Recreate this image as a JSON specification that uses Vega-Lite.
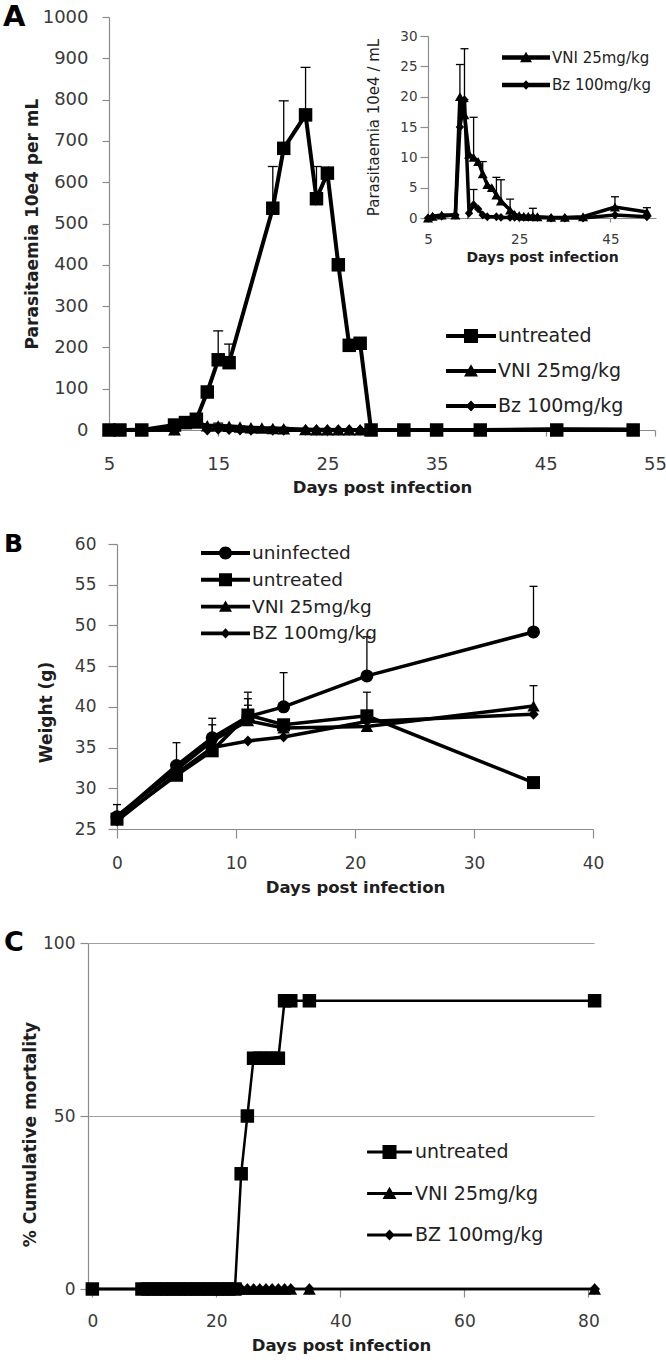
{
  "$schema": "https://vega.github.io/schema/vega-lite/v6.json",
  "width": 666,
  "height": 1362,
  "autosize": "none",
  "padding": 0,
  "background": "white",
  "config": {
    "view": {"stroke": null},
    "font": "DejaVu Sans",
    "axis": {"domainColor": "#8c8c8c", "tickColor": "#8c8c8c", "domainWidth": 1.2, "tickWidth": 1.2, "labelColor": "#3a3a3a", "titleColor": "#1e1e1e", "labelFont": "DejaVu Sans", "titleFont": "DejaVu Sans", "titleFontWeight": "bold", "grid": false, "labelFlush": false, "labelOverlap": false, "format": "d"},
    "legend": {"labelFont": "DejaVu Sans", "labelColor": "#222222", "padding": 0, "symbolOpacity": 1, "symbolStrokeWidth": 0, "symbolFillColor": "black", "title": null}
  },
  "datasets": {
    "para": [
      {"group": "untreated", "day": 5, "value": 0},
      {"group": "untreated", "day": 6, "value": 0},
      {"group": "untreated", "day": 8, "value": 0},
      {"group": "untreated", "day": 11, "value": 12},
      {"group": "untreated", "day": 12, "value": 18},
      {"group": "untreated", "day": 13, "value": 26},
      {"group": "untreated", "day": 14, "value": 92},
      {"group": "untreated", "day": 15, "value": 170, "err": 240},
      {"group": "untreated", "day": 16, "value": 163, "err": 208},
      {"group": "untreated", "day": 20, "value": 537, "err": 638},
      {"group": "untreated", "day": 21, "value": 682, "err": 797},
      {"group": "untreated", "day": 23, "value": 763, "err": 878},
      {"group": "untreated", "day": 24, "value": 560, "err": 638},
      {"group": "untreated", "day": 25, "value": 622},
      {"group": "untreated", "day": 26, "value": 400},
      {"group": "untreated", "day": 27, "value": 205},
      {"group": "untreated", "day": 28, "value": 210},
      {"group": "untreated", "day": 29, "value": 0},
      {"group": "untreated", "day": 32, "value": 0},
      {"group": "untreated", "day": 35, "value": 0},
      {"group": "untreated", "day": 39, "value": 0},
      {"group": "untreated", "day": 46, "value": 0},
      {"group": "untreated", "day": 53, "value": 0},
      {"group": "VNI 25mg/kg", "day": 5, "value": 0},
      {"group": "VNI 25mg/kg", "day": 6, "value": 0.3},
      {"group": "VNI 25mg/kg", "day": 8, "value": 0.5},
      {"group": "VNI 25mg/kg", "day": 11, "value": 0.5},
      {"group": "VNI 25mg/kg", "day": 12, "value": 20, "err": 25.3},
      {"group": "VNI 25mg/kg", "day": 13, "value": 17, "err": 19.2},
      {"group": "VNI 25mg/kg", "day": 14, "value": 10.5},
      {"group": "VNI 25mg/kg", "day": 15, "value": 10, "err": 16.6},
      {"group": "VNI 25mg/kg", "day": 16, "value": 9.3},
      {"group": "VNI 25mg/kg", "day": 17, "value": 7.3, "err": 9.3},
      {"group": "VNI 25mg/kg", "day": 18, "value": 5.5},
      {"group": "VNI 25mg/kg", "day": 19, "value": 5},
      {"group": "VNI 25mg/kg", "day": 20, "value": 3.8, "err": 6.7},
      {"group": "VNI 25mg/kg", "day": 21, "value": 2.8, "err": 6.3},
      {"group": "VNI 25mg/kg", "day": 23, "value": 1.3, "err": 3.1},
      {"group": "VNI 25mg/kg", "day": 24, "value": 0.6},
      {"group": "VNI 25mg/kg", "day": 25, "value": 0.4},
      {"group": "VNI 25mg/kg", "day": 26, "value": 0.3},
      {"group": "VNI 25mg/kg", "day": 27, "value": 0.3},
      {"group": "VNI 25mg/kg", "day": 28, "value": 0.3, "err": 1.6},
      {"group": "VNI 25mg/kg", "day": 29, "value": 0.2},
      {"group": "VNI 25mg/kg", "day": 32, "value": 0.1},
      {"group": "VNI 25mg/kg", "day": 35, "value": 0.1},
      {"group": "VNI 25mg/kg", "day": 39, "value": 0.2},
      {"group": "VNI 25mg/kg", "day": 46, "value": 1.8, "err": 3.5},
      {"group": "VNI 25mg/kg", "day": 53, "value": 1.0, "err": 1.7},
      {"group": "Bz 100mg/kg", "day": 5, "value": 0},
      {"group": "Bz 100mg/kg", "day": 6, "value": 0.2},
      {"group": "Bz 100mg/kg", "day": 8, "value": 0.3},
      {"group": "Bz 100mg/kg", "day": 11, "value": 0.5},
      {"group": "Bz 100mg/kg", "day": 12, "value": 15},
      {"group": "Bz 100mg/kg", "day": 13, "value": 19.5, "err": 27.9},
      {"group": "Bz 100mg/kg", "day": 14, "value": 0.8},
      {"group": "Bz 100mg/kg", "day": 15, "value": 2.2, "err": 4.7},
      {"group": "Bz 100mg/kg", "day": 16, "value": 1.5},
      {"group": "Bz 100mg/kg", "day": 17, "value": 0.5},
      {"group": "Bz 100mg/kg", "day": 18, "value": 0.2},
      {"group": "Bz 100mg/kg", "day": 20, "value": 0.2},
      {"group": "Bz 100mg/kg", "day": 21, "value": 0.1},
      {"group": "Bz 100mg/kg", "day": 23, "value": 0.1},
      {"group": "Bz 100mg/kg", "day": 24, "value": 0.1},
      {"group": "Bz 100mg/kg", "day": 25, "value": 0.1},
      {"group": "Bz 100mg/kg", "day": 26, "value": 0.1},
      {"group": "Bz 100mg/kg", "day": 27, "value": 0.1},
      {"group": "Bz 100mg/kg", "day": 28, "value": 0.1},
      {"group": "Bz 100mg/kg", "day": 29, "value": 0.1},
      {"group": "Bz 100mg/kg", "day": 32, "value": 0},
      {"group": "Bz 100mg/kg", "day": 35, "value": 0},
      {"group": "Bz 100mg/kg", "day": 39, "value": 0},
      {"group": "Bz 100mg/kg", "day": 46, "value": 0.5},
      {"group": "Bz 100mg/kg", "day": 53, "value": 0.2}
    ],
    "weight": [
      {"group": "uninfected", "day": 0, "value": 26.5, "err": 28.0},
      {"group": "uninfected", "day": 5, "value": 32.8, "err": 35.6},
      {"group": "uninfected", "day": 8, "value": 36.2, "err": 38.6},
      {"group": "uninfected", "day": 11, "value": 38.8, "err": 41.8},
      {"group": "uninfected", "day": 14, "value": 40.0, "err": 44.2},
      {"group": "uninfected", "day": 21, "value": 43.8, "err": 48.6},
      {"group": "uninfected", "day": 35, "value": 49.2, "err": 54.8},
      {"group": "untreated", "day": 0, "value": 26.2},
      {"group": "untreated", "day": 5, "value": 31.6},
      {"group": "untreated", "day": 8, "value": 34.6, "err": 37.8},
      {"group": "untreated", "day": 11, "value": 39.0, "err": 41.0},
      {"group": "untreated", "day": 14, "value": 37.8},
      {"group": "untreated", "day": 21, "value": 38.9, "err": 41.8},
      {"group": "untreated", "day": 35, "value": 30.7},
      {"group": "VNI 25mg/kg", "day": 0, "value": 26.6},
      {"group": "VNI 25mg/kg", "day": 5, "value": 32.3},
      {"group": "VNI 25mg/kg", "day": 8, "value": 35.8},
      {"group": "VNI 25mg/kg", "day": 11, "value": 38.3, "err": 40.2},
      {"group": "VNI 25mg/kg", "day": 14, "value": 37.4},
      {"group": "VNI 25mg/kg", "day": 21, "value": 37.6},
      {"group": "VNI 25mg/kg", "day": 35, "value": 40.1, "err": 42.6},
      {"group": "BZ 100mg/kg", "day": 0, "value": 26.0},
      {"group": "BZ 100mg/kg", "day": 5, "value": 31.8},
      {"group": "BZ 100mg/kg", "day": 8, "value": 35.0},
      {"group": "BZ 100mg/kg", "day": 11, "value": 35.8},
      {"group": "BZ 100mg/kg", "day": 14, "value": 36.3},
      {"group": "BZ 100mg/kg", "day": 21, "value": 38.2},
      {"group": "BZ 100mg/kg", "day": 35, "value": 39.1}
    ],
    "mort": [
      {"group": "untreated", "day": 0, "value": 0},
      {"group": "untreated", "day": 8, "value": 0},
      {"group": "untreated", "day": 9, "value": 0},
      {"group": "untreated", "day": 10, "value": 0},
      {"group": "untreated", "day": 11, "value": 0},
      {"group": "untreated", "day": 12, "value": 0},
      {"group": "untreated", "day": 13, "value": 0},
      {"group": "untreated", "day": 14, "value": 0},
      {"group": "untreated", "day": 15, "value": 0},
      {"group": "untreated", "day": 16, "value": 0},
      {"group": "untreated", "day": 17, "value": 0},
      {"group": "untreated", "day": 18, "value": 0},
      {"group": "untreated", "day": 19, "value": 0},
      {"group": "untreated", "day": 20, "value": 0},
      {"group": "untreated", "day": 21, "value": 0},
      {"group": "untreated", "day": 22, "value": 0},
      {"group": "untreated", "day": 23, "value": 0},
      {"group": "untreated", "day": 24, "value": 33.3},
      {"group": "untreated", "day": 25, "value": 50},
      {"group": "untreated", "day": 26, "value": 66.7},
      {"group": "untreated", "day": 27, "value": 66.7},
      {"group": "untreated", "day": 28, "value": 66.7},
      {"group": "untreated", "day": 29, "value": 66.7},
      {"group": "untreated", "day": 30, "value": 66.7},
      {"group": "untreated", "day": 31, "value": 83.3},
      {"group": "untreated", "day": 32, "value": 83.3},
      {"group": "untreated", "day": 35, "value": 83.3},
      {"group": "untreated", "day": 81, "value": 83.3},
      {"group": "VNI 25mg/kg", "day": 0, "value": 0},
      {"group": "VNI 25mg/kg", "day": 8, "value": 0},
      {"group": "VNI 25mg/kg", "day": 9, "value": 0},
      {"group": "VNI 25mg/kg", "day": 10, "value": 0},
      {"group": "VNI 25mg/kg", "day": 11, "value": 0},
      {"group": "VNI 25mg/kg", "day": 12, "value": 0},
      {"group": "VNI 25mg/kg", "day": 13, "value": 0},
      {"group": "VNI 25mg/kg", "day": 14, "value": 0},
      {"group": "VNI 25mg/kg", "day": 15, "value": 0},
      {"group": "VNI 25mg/kg", "day": 16, "value": 0},
      {"group": "VNI 25mg/kg", "day": 17, "value": 0},
      {"group": "VNI 25mg/kg", "day": 18, "value": 0},
      {"group": "VNI 25mg/kg", "day": 19, "value": 0},
      {"group": "VNI 25mg/kg", "day": 20, "value": 0},
      {"group": "VNI 25mg/kg", "day": 21, "value": 0},
      {"group": "VNI 25mg/kg", "day": 22, "value": 0},
      {"group": "VNI 25mg/kg", "day": 23, "value": 0},
      {"group": "VNI 25mg/kg", "day": 24, "value": 0},
      {"group": "VNI 25mg/kg", "day": 25, "value": 0},
      {"group": "VNI 25mg/kg", "day": 26, "value": 0},
      {"group": "VNI 25mg/kg", "day": 27, "value": 0},
      {"group": "VNI 25mg/kg", "day": 28, "value": 0},
      {"group": "VNI 25mg/kg", "day": 29, "value": 0},
      {"group": "VNI 25mg/kg", "day": 30, "value": 0},
      {"group": "VNI 25mg/kg", "day": 31, "value": 0},
      {"group": "VNI 25mg/kg", "day": 32, "value": 0},
      {"group": "VNI 25mg/kg", "day": 35, "value": 0},
      {"group": "VNI 25mg/kg", "day": 81, "value": 0},
      {"group": "BZ 100mg/kg", "day": 0, "value": 0},
      {"group": "BZ 100mg/kg", "day": 8, "value": 0},
      {"group": "BZ 100mg/kg", "day": 9, "value": 0},
      {"group": "BZ 100mg/kg", "day": 10, "value": 0},
      {"group": "BZ 100mg/kg", "day": 11, "value": 0},
      {"group": "BZ 100mg/kg", "day": 12, "value": 0},
      {"group": "BZ 100mg/kg", "day": 13, "value": 0},
      {"group": "BZ 100mg/kg", "day": 14, "value": 0},
      {"group": "BZ 100mg/kg", "day": 15, "value": 0},
      {"group": "BZ 100mg/kg", "day": 16, "value": 0},
      {"group": "BZ 100mg/kg", "day": 17, "value": 0},
      {"group": "BZ 100mg/kg", "day": 18, "value": 0},
      {"group": "BZ 100mg/kg", "day": 19, "value": 0},
      {"group": "BZ 100mg/kg", "day": 20, "value": 0},
      {"group": "BZ 100mg/kg", "day": 21, "value": 0},
      {"group": "BZ 100mg/kg", "day": 22, "value": 0},
      {"group": "BZ 100mg/kg", "day": 23, "value": 0},
      {"group": "BZ 100mg/kg", "day": 24, "value": 0},
      {"group": "BZ 100mg/kg", "day": 25, "value": 0},
      {"group": "BZ 100mg/kg", "day": 26, "value": 0},
      {"group": "BZ 100mg/kg", "day": 27, "value": 0},
      {"group": "BZ 100mg/kg", "day": 28, "value": 0},
      {"group": "BZ 100mg/kg", "day": 29, "value": 0},
      {"group": "BZ 100mg/kg", "day": 30, "value": 0},
      {"group": "BZ 100mg/kg", "day": 31, "value": 0},
      {"group": "BZ 100mg/kg", "day": 32, "value": 0},
      {"group": "BZ 100mg/kg", "day": 35, "value": 0},
      {"group": "BZ 100mg/kg", "day": 81, "value": 0}
    ]
  },
  "layer": [
    {
      "data": {"name": "para"},
      "resolve": {"scale": {"shape": "independent"}},
      "layer": [
        {"mark": {"type": "line", "color": "black", "strokeWidth": 4},
          "encoding": {
            "x": {"field": "day", "type": "quantitative", "scale": {"domain": [5, 55], "range": [109, 655], "nice": false, "zero": false},
              "axis": {"title": "Days post infection", "orient": "bottom", "offset": -932, "values": [5, 15, 25, 35, 45, 55], "tickSize": 6, "labelPadding": 19, "labelFontSize": 18, "titleFontSize": 16.5, "titlePadding": 6}},
            "y": {"field": "value", "type": "quantitative", "scale": {"domain": [0, 1000], "range": [430, 17], "nice": false, "zero": false},
              "axis": {"title": "Parasitaemia 10e4 per mL", "orient": "left", "offset": -109, "values": [0, 100, 200, 300, 400, 500, 600, 700, 800, 900, 1000], "tickSize": 7, "labelPadding": 14, "labelFontSize": 18, "titleFontSize": 17, "titlePadding": 1}},
            "detail": {"field": "group"}}},
        {"transform": [{"filter": "datum.err != null"}], "mark": {"type": "rule", "color": "black", "strokeWidth": 1.3},
          "encoding": {"x": {"field": "day", "type": "quantitative"}, "y": {"field": "value", "type": "quantitative"}, "y2": {"field": "err"}}},
        {"transform": [{"filter": "datum.err != null"}], "mark": {"type": "tick", "orient": "horizontal", "color": "black", "opacity": 1, "size": 10, "thickness": 1.3},
          "encoding": {"x": {"field": "day", "type": "quantitative"}, "y": {"field": "err", "type": "quantitative"}}},
        {"mark": {"type": "point", "filled": true, "color": "black", "opacity": 1, "size": 182},
          "encoding": {"x": {"field": "day", "type": "quantitative"}, "y": {"field": "value", "type": "quantitative"},
            "shape": {"field": "group", "scale": {"domain": ["untreated", "VNI 25mg/kg", "Bz 100mg/kg"], "range": ["square", "M0,-0.85L0.95,0.85L-0.95,0.85Z", "M0,-0.85L0.8,0L0,0.85L-0.8,0Z"]}, "legend": null}}},
        {"mark": {"type": "point", "filled": true, "color": "black", "opacity": 0},
          "encoding": {"x": {"field": "day", "type": "quantitative"}, "y": {"field": "value", "type": "quantitative"},
            "shape": {"field": "group", "scale": {"domain": ["untreated", "VNI 25mg/kg", "Bz 100mg/kg"], "range": ["M-3.57,-0.29H3.57V0.29H-3.57ZM-1,-1H1V1H-1Z", "M-3.57,-0.29H3.57V0.29H-3.57ZM0,-0.95L1,0.8L-1,0.8Z", "M-3.57,-0.29H3.57V0.29H-3.57ZM0,-0.8L0.75,0L0,0.8L-0.75,0Z"]},
              "legend": {"orient": "none", "legendX": 461.5, "legendY": 326.5, "title": null, "labelFontSize": 19, "labelOffset": 17.5, "rowPadding": 15, "symbolSize": 196, "symbolStrokeWidth": 0, "symbolOpacity": 1, "symbolFillColor": "black"}}}},
        {"data": {"values": [{}]}, "mark": {"type": "text", "text": "A", "fontSize": 29, "fontWeight": "bold", "align": "left", "baseline": "middle", "color": "black"},
          "encoding": {"x": {"datum": -4.7, "type": "quantitative"}, "y": {"datum": 1000, "type": "quantitative"}}}
      ]
    },
    {
      "data": {"name": "para"},
      "transform": [{"filter": "datum.group != 'untreated'"}],
      "resolve": {"scale": {"shape": "independent"}},
      "layer": [
        {"mark": {"type": "line", "color": "black", "strokeWidth": 3.5},
          "encoding": {
            "x": {"field": "day", "type": "quantitative", "scale": {"domain": [5, 55], "range": [428, 656], "nice": false, "zero": false},
              "axis": {"title": "Days post infection", "orient": "bottom", "offset": -1144, "values": [5, 25, 45], "tickSize": 4, "labelPadding": 10, "labelFontSize": 13.5, "titleFontSize": 14, "titlePadding": 5}},
            "y": {"field": "value", "type": "quantitative", "scale": {"domain": [0, 30], "range": [218, 36], "nice": false, "zero": false},
              "axis": {"title": "Parasitaemia 10e4 / mL", "orient": "left", "offset": -428, "values": [0, 5, 10, 15, 20, 25, 30], "tickSize": 8, "labelPadding": 3, "labelFontSize": 13.5, "titleFontSize": 15, "titleFontWeight": "normal", "titlePadding": 18}},
            "detail": {"field": "group"}}},
        {"transform": [{"filter": "datum.err != null"}], "mark": {"type": "rule", "color": "black", "strokeWidth": 1.3},
          "encoding": {"x": {"field": "day", "type": "quantitative"}, "y": {"field": "value", "type": "quantitative"}, "y2": {"field": "err"}}},
        {"transform": [{"filter": "datum.err != null"}], "mark": {"type": "tick", "orient": "horizontal", "color": "black", "opacity": 1, "size": 8, "thickness": 1.3},
          "encoding": {"x": {"field": "day", "type": "quantitative"}, "y": {"field": "err", "type": "quantitative"}}},
        {"mark": {"type": "point", "filled": true, "color": "black", "opacity": 1, "size": 110},
          "encoding": {"x": {"field": "day", "type": "quantitative"}, "y": {"field": "value", "type": "quantitative"},
            "shape": {"field": "group", "scale": {"domain": ["VNI 25mg/kg", "Bz 100mg/kg"], "range": ["M0,-0.85L0.95,0.85L-0.95,0.85Z", "M0,-0.85L0.8,0L0,0.85L-0.8,0Z"]}, "legend": null}}},
        {"mark": {"type": "point", "filled": true, "color": "black", "opacity": 0},
          "encoding": {"x": {"field": "day", "type": "quantitative"}, "y": {"field": "value", "type": "quantitative"},
            "shape": {"field": "group", "scale": {"domain": ["VNI 25mg/kg", "Bz 100mg/kg"], "range": ["M-4,-0.37H4V0.37H-4ZM0,-0.95L1,0.8L-1,0.8Z", "M-4,-0.37H4V0.37H-4ZM0,-0.8L0.75,0L0,0.8L-0.75,0Z"]},
              "legend": {"orient": "none", "legendX": 518.5, "legendY": 50, "title": null, "labelFontSize": 15, "labelOffset": 18.5, "rowPadding": 11.5, "symbolSize": 144, "symbolStrokeWidth": 0, "symbolOpacity": 1, "symbolFillColor": "black"}}}}
      ]
    },
    {
      "data": {"name": "weight"},
      "resolve": {"scale": {"shape": "independent"}},
      "layer": [
        {"mark": {"type": "line", "color": "black", "strokeWidth": 3.5},
          "encoding": {
            "x": {"field": "day", "type": "quantitative", "scale": {"domain": [0, 40], "range": [117, 593], "nice": false, "zero": false},
              "axis": {"title": "Days post infection", "orient": "bottom", "offset": -533, "values": [0, 10, 20, 30, 40], "tickSize": 9, "labelPadding": 17, "labelFontSize": 17, "titleFontSize": 16.5, "titlePadding": 8}},
            "y": {"field": "value", "type": "quantitative", "scale": {"domain": [25, 60], "range": [829, 544], "nice": false, "zero": false},
              "axis": {"title": "Weight (g)", "orient": "left", "offset": -117, "values": [25, 30, 35, 40, 45, 50, 55, 60], "tickSize": 9, "labelPadding": 12, "labelFontSize": 17, "titleFontSize": 17, "titlePadding": 19, "titleY": 712}},
            "detail": {"field": "group"}}},
        {"transform": [{"filter": "datum.err != null"}], "mark": {"type": "rule", "color": "black", "strokeWidth": 1.3},
          "encoding": {"x": {"field": "day", "type": "quantitative"}, "y": {"field": "value", "type": "quantitative"}, "y2": {"field": "err"}}},
        {"transform": [{"filter": "datum.err != null"}], "mark": {"type": "tick", "orient": "horizontal", "color": "black", "opacity": 1, "size": 8, "thickness": 1.3},
          "encoding": {"x": {"field": "day", "type": "quantitative"}, "y": {"field": "err", "type": "quantitative"}}},
        {"mark": {"type": "point", "filled": true, "color": "black", "opacity": 1, "size": 169},
          "encoding": {"x": {"field": "day", "type": "quantitative"}, "y": {"field": "value", "type": "quantitative"},
            "shape": {"field": "group", "scale": {"domain": ["uninfected", "untreated", "VNI 25mg/kg", "BZ 100mg/kg"], "range": ["circle", "square", "M0,-0.85L0.95,0.85L-0.95,0.85Z", "M0,-0.85L0.8,0L0,0.85L-0.8,0Z"]}, "legend": null}}},
        {"mark": {"type": "point", "filled": true, "color": "black", "opacity": 0},
          "encoding": {"x": {"field": "day", "type": "quantitative"}, "y": {"field": "value", "type": "quantitative"},
            "shape": {"field": "group", "scale": {"domain": ["uninfected", "untreated", "VNI 25mg/kg", "BZ 100mg/kg"], "range": ["M-3.77,-0.3H3.77V0.3H-3.77ZM-1,0A1,1,0,1,1,1,0A1,1,0,1,1,-1,0Z", "M-3.77,-0.3H3.77V0.3H-3.77ZM-1,-1H1V1H-1Z", "M-3.77,-0.3H3.77V0.3H-3.77ZM0,-0.95L1,0.8L-1,0.8Z", "M-3.77,-0.3H3.77V0.3H-3.77ZM0,-0.8L0.75,0L0,0.8L-0.75,0Z"]},
              "legend": {"orient": "none", "legendX": 216.25, "legendY": 543.75, "title": null, "labelFontSize": 18.5, "labelOffset": 17.25, "rowPadding": 7.8, "symbolSize": 169, "symbolStrokeWidth": 0, "symbolOpacity": 1, "symbolFillColor": "black"}}}},
        {"data": {"values": [{}]}, "mark": {"type": "text", "text": "B", "fontSize": 25, "fontWeight": "bold", "align": "left", "baseline": "middle", "color": "black"},
          "encoding": {"x": {"datum": -9.5, "type": "quantitative"}, "y": {"datum": 60, "type": "quantitative"}}}
      ]
    },
    {
      "data": {"name": "mort"},
      "resolve": {"scale": {"shape": "independent"}},
      "layer": [
        {"mark": {"type": "line", "color": "black", "strokeWidth": 2.5},
          "encoding": {
            "x": {"field": "day", "type": "quantitative", "scale": {"domain": [-0.7, 80.9], "range": [88, 594], "nice": false, "zero": false},
              "axis": {"title": "Days post infection", "orient": "bottom", "offset": -73, "values": [0, 20, 40, 60, 80], "tickSize": 8, "labelPadding": 16, "labelFontSize": 17, "titleFontSize": 16.5, "titlePadding": 8}},
            "y": {"field": "value", "type": "quantitative", "scale": {"domain": [0, 100], "range": [1289, 943], "nice": false, "zero": false},
              "axis": {"title": "% Cumulative mortality", "orient": "left", "offset": -88, "values": [0, 50, 100], "tickSize": 8, "labelPadding": 5, "labelFontSize": 17, "titleFontSize": 17, "titlePadding": 3, "titleY": 1134, "grid": true, "gridColor": "#a0a0a0", "gridWidth": 1.2}},
            "detail": {"field": "group"}}},
        {"mark": {"type": "point", "filled": true, "color": "black", "opacity": 1, "size": 182},
          "encoding": {"x": {"field": "day", "type": "quantitative"}, "y": {"field": "value", "type": "quantitative"},
            "shape": {"field": "group", "scale": {"domain": ["untreated", "VNI 25mg/kg", "BZ 100mg/kg"], "range": ["square", "M0,-0.85L0.95,0.85L-0.95,0.85Z", "M0,-0.85L0.8,0L0,0.85L-0.8,0Z"]}, "legend": null}}},
        {"mark": {"type": "point", "filled": true, "color": "black", "opacity": 0},
          "encoding": {"x": {"field": "day", "type": "quantitative"}, "y": {"field": "value", "type": "quantitative"},
            "shape": {"field": "group", "scale": {"domain": ["untreated", "VNI 25mg/kg", "BZ 100mg/kg"], "range": ["M-3.2,-0.21H3.2V0.21H-3.2ZM-1,-1H1V1H-1Z", "M-3.2,-0.21H3.2V0.21H-3.2ZM0,-0.95L1,0.8L-1,0.8Z", "M-3.2,-0.21H3.2V0.21H-3.2ZM0,-0.8L0.75,0L0,0.8L-0.75,0Z"]},
              "legend": {"orient": "none", "legendX": 380, "legendY": 1142.5, "title": null, "labelFontSize": 19, "labelOffset": 16, "rowPadding": 21.5, "symbolSize": 196, "symbolStrokeWidth": 0, "symbolOpacity": 1, "symbolFillColor": "black"}}}},
        {"data": {"values": [{}]}, "mark": {"type": "text", "text": "C", "fontSize": 27, "fontWeight": "bold", "align": "left", "baseline": "middle", "color": "black"},
          "encoding": {"x": {"datum": -14.25, "type": "quantitative"}, "y": {"datum": 100, "type": "quantitative"}}}
      ]
    }
  ],
  "resolve": {"scale": {"x": "independent", "y": "independent", "shape": "independent"}}
}
